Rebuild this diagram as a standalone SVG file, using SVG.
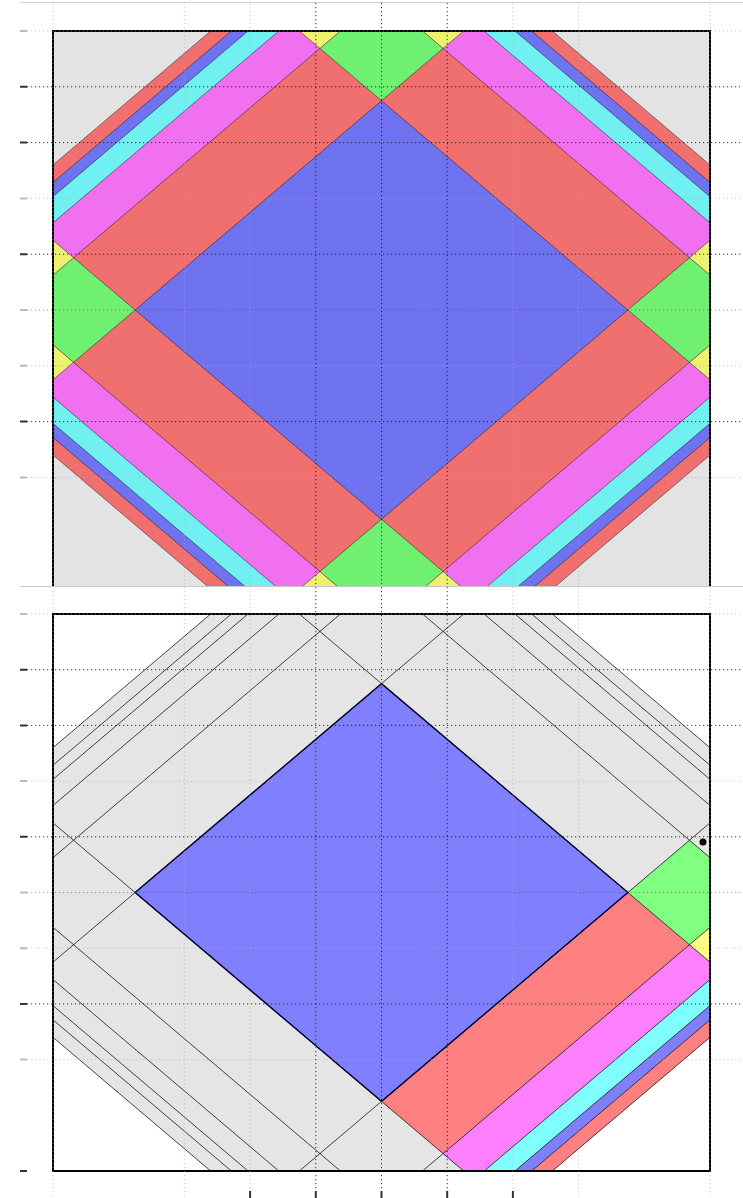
<svg xmlns="http://www.w3.org/2000/svg" width="743" height="1198" viewBox="0 0 743 1198">
<style>
.gd{fill:none;stroke:#111;stroke-width:1;stroke-dasharray:1.2 2.8;stroke-opacity:0.85}
.gm{fill:none;stroke:#555;stroke-width:1;stroke-dasharray:1.2 2.8;stroke-opacity:0.6}
.gl{fill:none;stroke:#aaa;stroke-width:1;stroke-dasharray:1.2 2.8;stroke-opacity:0.6}
.tk{stroke:#333;stroke-width:2}
.tkl{stroke:#bbb;stroke-width:2}
.frame{fill:none;stroke:#000;stroke-width:2}
</style>
<defs>
<clipPath id="clipTop" clipPathUnits="userSpaceOnUse"><rect x="53" y="31" width="657" height="555"/></clipPath>
<clipPath id="clipBot" clipPathUnits="userSpaceOnUse"><rect x="53" y="614" width="657" height="557"/></clipPath>
</defs>
<rect width="743" height="1198" fill="#fff"/>
<line x1="20" y1="2.5" x2="743" y2="2.5" stroke="#d0d0d0" stroke-width="1"/>
<line x1="20" y1="586.5" x2="743" y2="586.5" stroke="#c8c8c8" stroke-width="1"/>
<g id="top-panel" clip-path="url(#clipTop)">
<g transform="translate(381.5 310) scale(328.5 279)">
<rect x="-1" y="-1" width="2" height="2" fill="#e3e3e3"/>
<polygon points="0,-1.52 1.52,0 0,1.52 -1.52,0" fill="#f07070"/>
<polygon points="0,-1.457 1.457,0 0,1.457 -1.457,0" fill="#7073f0"/>
<polygon points="0,-1.40625 1.40625,0 0,1.40625 -1.40625,0" fill="#70f0f0"/>
<polygon points="0,-1.3125 1.3125,0 0,1.3125 -1.3125,0" fill="#f070f0"/>
<g fill="#f0f070">
<polygon points="0,-0.75 -0.28125,-1.03125 0,-1.3125 0.28125,-1.03125"/>
<polygon points="0,0.75 -0.28125,1.03125 0,1.3125 0.28125,1.03125"/>
<polygon points="-0.75,0 -1.03125,-0.28125 -1.3125,0 -1.03125,0.28125"/>
<polygon points="0.75,0 1.03125,-0.28125 1.3125,0 1.03125,0.28125"/>
</g>
<polygon points="0,-1.125 1.125,0 0,1.125 -1.125,0" fill="#f07070"/>
<g fill="#70f070">
<polygon points="0,-0.75 -0.1875,-0.9375 0,-1.125 0.1875,-0.9375"/>
<polygon points="0,0.75 -0.1875,0.9375 0,1.125 0.1875,0.9375"/>
<polygon points="-0.75,0 -0.9375,-0.1875 -1.125,0 -0.9375,0.1875"/>
<polygon points="0.75,0 0.9375,-0.1875 1.125,0 0.9375,0.1875"/>
</g>
<polygon points="0,-0.75 0.75,0 0,0.75 -0.75,0" fill="#7073f0"/>
<path fill="none" stroke="#000" stroke-opacity="0.55" stroke-width="0.8" vector-effect="non-scaling-stroke" d="M-1.5,2.25L1.5,-0.75M-1.5,2.625L1.5,-0.375M-1.5,2.8125L1.5,-0.1875M-1.5,2.90625L1.5,-0.09375M-1.5,2.957L1.5,-0.043M-1.5,3.02L1.5,0.02M-1.5,0.75L1.5,-2.25M-1.5,0.375L1.5,-2.625M-1.5,0.1875L1.5,-2.8125M-1.5,0.09375L1.5,-2.90625M-1.5,0.043L1.5,-2.957M-1.5,-0.02L1.5,-3.02M-1.5,-2.25L1.5,0.75M-1.5,-2.625L1.5,0.375M-1.5,-2.8125L1.5,0.1875M-1.5,-2.90625L1.5,0.09375M-1.5,-2.957L1.5,0.043M-1.5,-3.02L1.5,-0.02M-1.5,-0.75L1.5,2.25M-1.5,-0.375L1.5,2.625M-1.5,-0.1875L1.5,2.8125M-1.5,-0.09375L1.5,2.90625M-1.5,-0.043L1.5,2.957M-1.5,0.02L1.5,3.02"/>
</g>
</g>
<g id="top-frame">
<path class="frame" d="M53,586V31H710V586"/>
</g>
<g id="bottom-panel" clip-path="url(#clipBot)">
<g transform="translate(381.5 892.5) scale(328.5 278.5)">
<polygon points="0,-1.52 1.52,0 0,1.52 -1.52,0" fill="#e5e5e5"/>
<polygon points="0,-0.75 0.75,0 0,0.75 -0.75,0" fill="#8080ff"/>
<polygon points="0,0.75 0.75,0 0.9375,0.1875 0.1875,0.9375" fill="#ff8080"/>
<polygon points="0.75,0 0.9375,-0.1875 1.125,0 0.9375,0.1875" fill="#80ff80"/>
<polygon points="0.9375,0.1875 1.125,0 1.21875,0.09375 1.03125,0.28125" fill="#ffff80"/>
<polygon points="0.1875,0.9375 0.9375,0.1875 1.03125,0.28125 0.28125,1.03125" fill="#ff80ff"/>
<polygon points="0.28125,1.03125 1.03125,0.28125 1.078125,0.328125 0.328125,1.078125" fill="#80ffff"/>
<polygon points="0.328125,1.078125 1.078125,0.328125 1.1035,0.3535 0.3535,1.1035" fill="#8080ff"/>
<polygon points="0.3535,1.1035 1.1035,0.3535 1.135,0.385 0.385,1.135" fill="#ff8080"/>
<path fill="none" stroke="#000" stroke-opacity="0.8" stroke-width="0.9" vector-effect="non-scaling-stroke" d="M-1.5,2.25L1.5,-0.75M-1.5,2.625L1.5,-0.375M-1.5,2.8125L1.5,-0.1875M-1.5,2.90625L1.5,-0.09375M-1.5,2.957L1.5,-0.043M-1.5,3.02L1.5,0.02M-1.5,0.75L1.5,-2.25M-1.5,0.375L1.5,-2.625M-1.5,0.1875L1.5,-2.8125M-1.5,0.09375L1.5,-2.90625M-1.5,0.043L1.5,-2.957M-1.5,-0.02L1.5,-3.02M-1.5,-2.25L1.5,0.75M-1.5,-2.625L1.5,0.375M-1.5,-2.8125L1.5,0.1875M-1.5,-2.90625L1.5,0.09375M-1.5,-2.957L1.5,0.043M-1.5,-3.02L1.5,-0.02M-1.5,-0.75L1.5,2.25M-1.5,-0.375L1.5,2.625M-1.5,-0.1875L1.5,2.8125M-1.5,-0.09375L1.5,2.90625M-1.5,-0.043L1.5,2.957M-1.5,0.02L1.5,3.02"/>
<polygon points="0,-0.75 0.75,0 0,0.75 -0.75,0" fill="none" stroke="#000030" stroke-width="1.4" vector-effect="non-scaling-stroke"/>
</g>
</g>
<g id="bottom-frame">
<rect class="frame" x="53" y="614" width="657" height="557"/>
<circle cx="703" cy="842" r="3.5" fill="#000"/>
</g>
<g id="grid">
<g class="gl">
<path d="M53,3V1198M184.4,3V1198M250.1,3V1198M512.9,3V1198M578.6,3V1198M710,3V1198"/>
<path d="M27,31H743M27,198.4H743M27,365.8H743M27,477.4H743M27,614H743M27,781.1H743M27,948.2H743M27,1059.6H743"/>
</g>
<g class="gm">
<path d="M27,310H743M27,892.5H743"/>
</g>
<g class="gd">
<path d="M315.8,3V1198M381.5,3V1198M447.2,3V1198"/>
<path d="M27,86.8H743M27,142.6H743M27,254.2H743M27,421.6H743M27,669.7H743M27,725.4H743M27,836.8H743M27,1003.9H743"/>
</g>
<g class="tk">
<path d="M20,86.8H27M20,142.6H27M20,254.2H27M20,421.6H27M20,669.7H27M20,725.4H27M20,836.8H27M20,1003.9H27M20,1171H27"/>
<path d="M250.1,1191V1198M315.8,1191V1198M381.5,1191V1198M447.2,1191V1198M512.9,1191V1198"/>
</g>
<g class="tkl">
<path d="M20,31H27M20,198.4H27M20,310H27M20,365.8H27M20,477.4H27M20,614H27M20,781.1H27M20,892.5H27M20,948.2H27M20,1059.6H27"/>
</g>
</g>
</svg>
